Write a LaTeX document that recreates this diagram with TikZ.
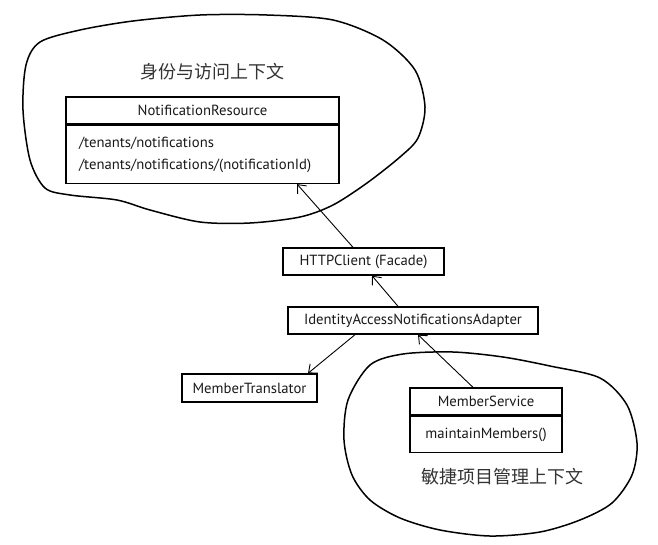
\documentclass[tikz,border=0pt]{standalone}
\usepackage{fontspec}
\setmainfont{PT Sans}
\newfontfamily\cjkfont{Noto Sans CJK SC}
\usetikzlibrary{positioning,arrows.meta}
\begin{document}
\begin{tikzpicture}[x=1pt,y=-1pt,
  classbox/.style={draw,line width=1.4pt,inner sep=0pt,minimum height=27pt,text=black!90,font=\fontsize{14.7}{17}\selectfont},
  dep/.style={line width=0.9pt,-{Straight Barb[length=7pt,width=12pt]}},
  blob/.style={line width=1.5pt},
  ctxname/.style={text=black!80,font=\cjkfont\fontsize{18}{20}\selectfont}]
\useasboundingbox (0,0) rectangle (658,544);
% bounded contexts
\draw[blob] plot[smooth cycle] coordinates {(40,42) (80,30) (133,21) (200,15) (267,15) (333,20) (383,40) (415,70) (425,107) (418,138) (400,157) (367,183) (333,205) (300,217) (250,223) (200,222) (150,210) (117,200) (70,195) (45,188) (30,160) (23,110) (26,65)};
\draw[blob] plot[smooth cycle] coordinates {(370,365) (403,354) (453,352) (503,357) (550,366) (600,378) (627,405) (637,443) (632,475) (612,503) (580,520) (540,532) (490,536) (440,530) (400,518) (370,500) (352,475) (344,440) (348,400)};
\node[ctxname] (idctx) at (212,72) {身份与访问上下文};
\node[ctxname] (agilectx) at (502,477) {敏捷项目管理上下文};
% classes
\node[classbox,minimum width=273pt] (res) at (202.5,110.5) {NotificationResource};
\node[classbox,below=0pt of res,minimum height=58pt,inner xsep=13pt,text width=247pt,align=left,font=\fontsize{14.7}{22}\selectfont] (resops) {/tenants/notifications\\/tenants/notifications/(notificationId)};
\node[classbox,minimum width=161pt] (http) at (363.5,261.5) {HTTPClient (Facade)};
\node[classbox,minimum width=250pt] (adapter) at (413,320.5) {IdentityAccessNotificationsAdapter};
\node[classbox,minimum width=135pt,minimum height=28pt] (translator) at (249.5,388) {MemberTranslator};
\node[classbox,minimum width=152pt] (service) at (486,401.5) {MemberService};
\node[classbox,below=0pt of service,minimum width=152pt,minimum height=36pt] (serviceops) {maintainMembers()};
% dependencies
\draw[dep] ([xshift=-10.5pt]http.north) -- ([xshift=94.5pt]resops.south);
\draw[dep] ([xshift=-15pt]adapter.north) -- ([xshift=8.5pt]http.south);
\draw[dep] ([xshift=-58pt]adapter.south) -- ([xshift=58.5pt]translator.north);
\draw[dep] ([xshift=-13pt]service.north) -- ([xshift=5pt]adapter.south);
\end{tikzpicture}
\end{document}
